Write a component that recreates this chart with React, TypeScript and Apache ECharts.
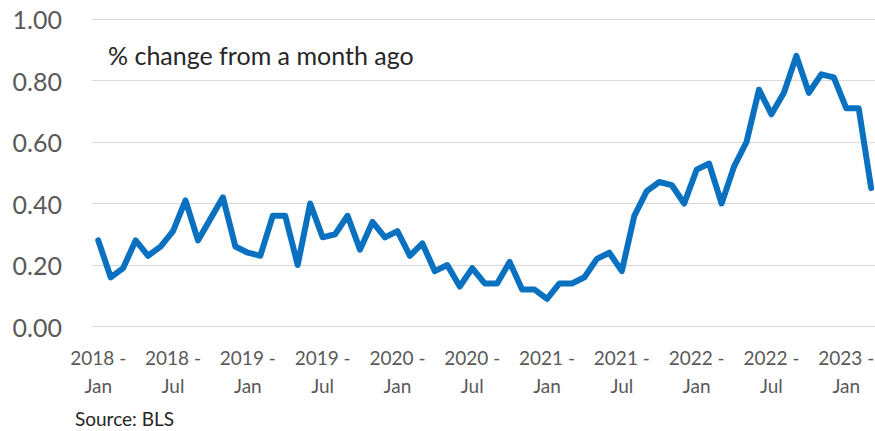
import React, { useEffect, useRef } from "react";
import * as echarts from "echarts";

const years = ["2018", "2019", "2020", "2021", "2022", "2023"];
const monthNames = ["Jan", "Feb", "Mar", "Apr", "May", "Jun", "Jul", "Aug", "Sep", "Oct", "Nov", "Dec"];

const values2018 = [0.28, 0.16, 0.19, 0.28, 0.23, 0.26, 0.31, 0.41, 0.28, 0.35, 0.42, 0.26];
const values2019 = [0.24, 0.23, 0.36, 0.36, 0.20, 0.40, 0.29, 0.30, 0.36, 0.25, 0.34, 0.29];
const values2020 = [0.31, 0.23, 0.27, 0.18, 0.20, 0.13, 0.19, 0.14, 0.14, 0.21, 0.12, 0.12];
const values2021 = [0.09, 0.14, 0.14, 0.16, 0.22, 0.24, 0.18, 0.36, 0.44, 0.47, 0.46, 0.40];
const values2022 = [0.51, 0.53, 0.40, 0.52, 0.60, 0.77, 0.69, 0.76, 0.88, 0.76, 0.82, 0.81];
const values2023 = [0.71, 0.71, 0.45];

const yearValues = [values2018, values2019, values2020, values2021, values2022, values2023];

const titleText = "% change from a month ago";
const sourceText = "Source: BLS";

export default function App() {
  const ref = useRef<HTMLDivElement>(null);

  useEffect(() => {
    if (!ref.current) return;
    const chart = echarts.init(ref.current, null, { renderer: "svg" });

    const categories: string[] = [];
    const data: number[] = [];
    yearValues.forEach((vals, yi) => {
      vals.forEach((v, mi) => {
        categories.push(years[yi] + " -\n" + monthNames[mi]);
        data.push(v);
      });
    });

    const font = "Lato, 'Open Sans', sans-serif";

    chart.setOption({
      animation: false,
      backgroundColor: "#ffffff",
      grid: {
        left: 92,
        right: 2.6,
        top: 19,
        bottom: 104.5,
        containLabel: false,
      },
      title: {
        text: titleText,
        left: 108,
        top: 42,
        padding: 0,
        textStyle: {
          fontFamily: font,
          fontSize: 25,
          fontWeight: "normal",
          color: "#262626",
        },
      },
      graphic: [
        {
          type: "text",
          left: 75,
          top: 409,
          style: {
            text: sourceText,
            font: "19px " + font,
            fill: "#262626",
          },
        },
      ],
      xAxis: {
        type: "category",
        data: categories,
        boundaryGap: true,
        axisLine: { show: false },
        axisTick: { show: false },
        axisLabel: {
          interval: 5,
          margin: 16.5,
          fontFamily: font,
          fontSize: 19,
          lineHeight: 28,
          color: "#595959",
        },
        splitLine: { show: false },
      },
      yAxis: {
        type: "value",
        min: 0,
        max: 1,
        interval: 0.2,
        axisLine: { show: false },
        axisTick: { show: false },
        axisLabel: {
          margin: 30,
          fontFamily: font,
          fontSize: 25,
          color: "#595959",
          formatter: (v: number) => v.toFixed(2),
        },
        splitLine: { lineStyle: { color: "#d9d9d9", width: 1 } },
      },
      series: [
        {
          type: "line",
          data,
          symbol: "none",
          lineStyle: { color: "#0a70c0", width: 6, join: "round", cap: "round" },
          itemStyle: { color: "#0a70c0" },
        },
      ],
    });

    return () => chart.dispose();
  }, []);

  return (
    <div style={{ position: "fixed", left: 0, top: 0, width: 875, height: 431, overflow: "hidden", background: "#fff" }}>
      <div ref={ref} style={{ width: 880, height: 431 }} />
    </div>
  );
}
